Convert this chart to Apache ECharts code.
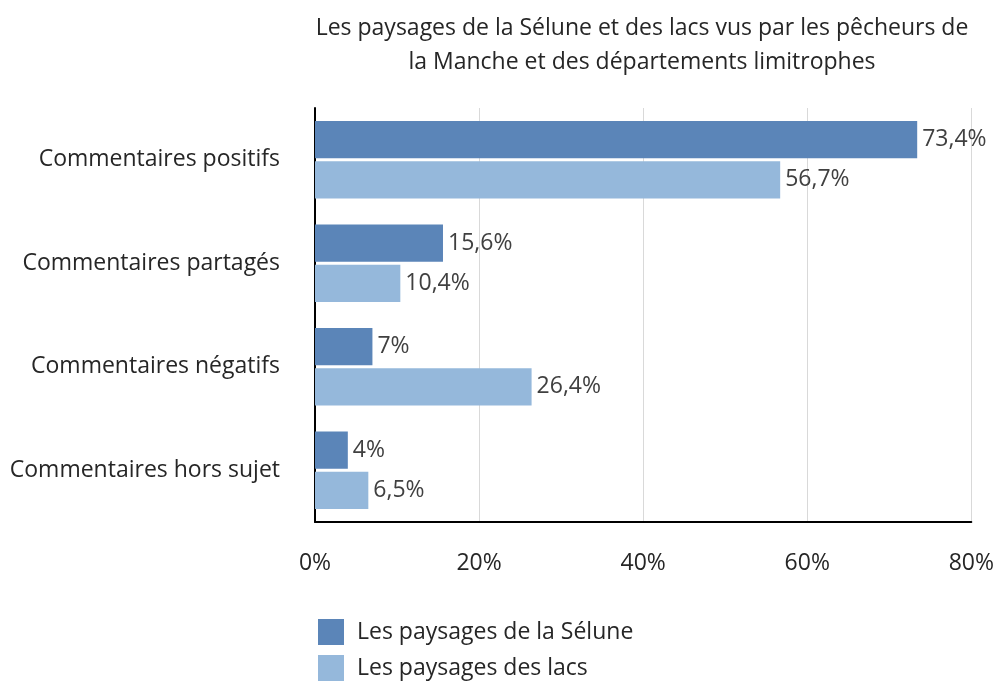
<!DOCTYPE html>
<html>
<head>
<meta charset="utf-8">
<script src="https://cdn.jsdelivr.net/npm/echarts@6/dist/echarts.min.js"></script>
<style>
  html, body { margin: 0; padding: 0; background: #fff; }
  #chart { width: 997px; height: 684px; }
</style>
</head>
<body>
<div id="chart"></div>
<script>
// Chart data
const categories = ['Commentaires positifs', 'Commentaires partagés', 'Commentaires négatifs', 'Commentaires hors sujet'];
const seriesNames = ['Les paysages de la Sélune', 'Les paysages des lacs'];
const seluneValues = [73.4, 15.6, 7, 4];
const lacsValues = [56.7, 10.4, 26.4, 6.5];

const FONT = '"Open Sans", sans-serif';
const TEXT = '#262626';
const SIZE = 23;

function pct(v) {
    return String(v).replace('.', ',') + '%';
}

const chart = echarts.init(document.getElementById('chart'));

const labelStyle = {
    show: true,
    position: 'right',
    distance: 5,
    color: '#404040',
    fontFamily: FONT,
    fontSize: SIZE,
    formatter: p => pct(p.value)
};

chart.setOption({
    animation: false,
    title: {
        text: 'Les paysages de la Sélune et des lacs vus par les pêcheurs de\nla Manche et des départements limitrophes',
        left: 642,
        top: 11,
        textAlign: 'center',
        padding: 0,
        textStyle: {
            color: TEXT,
            fontFamily: FONT,
            fontSize: SIZE,
            fontWeight: 'normal',
            lineHeight: 34
        }
    },
    legend: {
        orient: 'vertical',
        left: 318,
        top: 619,
        padding: 0,
        itemWidth: 26,
        itemHeight: 26,
        itemGap: 10,
        icon: 'rect',
        textStyle: { color: TEXT, fontFamily: FONT, fontSize: SIZE, lineHeight: 26, padding: [0, 0, 0, 8] },
        data: seriesNames
    },
    grid: { left: 315, right: 25, top: 108, bottom: 162, containLabel: false },
    xAxis: {
        type: 'value',
        min: 0,
        max: 80,
        interval: 20,
        axisLine: { show: true, lineStyle: { color: '#000', width: 2 } },
        axisTick: { show: false },
        splitLine: { lineStyle: { color: '#d9d9d9' } },
        axisLabel: {
            color: TEXT,
            fontFamily: FONT,
            fontSize: SIZE,
            margin: 30,
            formatter: v => v + '%'
        }
    },
    yAxis: {
        type: 'category',
        inverse: true,
        data: categories,
        axisLine: { show: true, lineStyle: { color: '#000', width: 2 } },
        axisTick: { show: false },
        axisLabel: { color: TEXT, fontFamily: FONT, fontSize: SIZE, margin: 35 }
    },
    series: [
        {
            name: seriesNames[0],
            type: 'bar',
            data: seluneValues,
            barGap: '8%',
            barCategoryGap: '25%',
            itemStyle: { color: '#5b85b8' },
            label: labelStyle
        },
        {
            name: seriesNames[1],
            type: 'bar',
            data: lacsValues,
            itemStyle: { color: '#95b8db' },
            label: labelStyle
        }
    ]
});
</script>
</body>
</html>
